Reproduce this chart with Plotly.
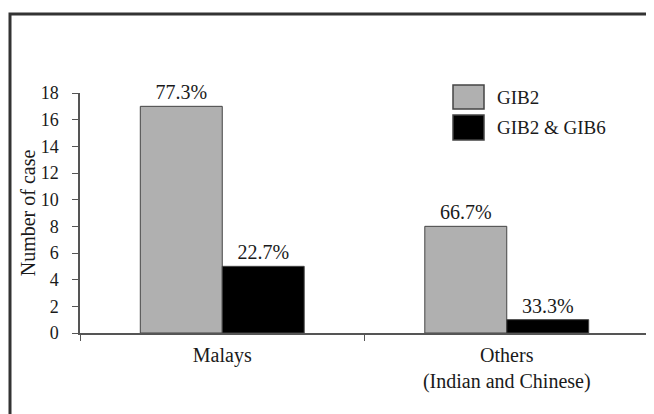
import plotly.graph_objects as go

categories = ["Malays", "Others<br>(Indian and Chinese)"]
series_names = ["GIB2", "GIB2 & GIB6"]
gib2_values = [17, 8]
gib2_gib6_values = [5, 1]
gib2_labels = ["77.3%", "66.7%"]
gib2_gib6_labels = ["22.7%", "33.3%"]
y_ticks = [0, 2, 4, 6, 8, 10, 12, 14, 16, 18]

FONT = "Liberation Serif"
COLORS = ["#b0b0b0", "#000000"]
TXT = "#1a1a1a"

# page body has an 8px margin, so the figure origin is at (8, 8) in the window
OFF = 8
W, H = 654, 414
PL, PR, PT, PB = 80, 649, 93, 333   # plot area in window pixels
L, T = PL - OFF, PT - OFF
R = W - (PR - OFF)
B = H - (PB - OFF)
pw, ph = PR - PL, PB - PT

def px_x(p):
    return (p - PL) / pw

def px_y(p):
    return (PB - p) / ph

fig = go.Figure()
for name, vals, labels, col in [
    (series_names[0], gib2_values, gib2_labels, COLORS[0]),
    (series_names[1], gib2_gib6_values, gib2_gib6_labels, COLORS[1]),
]:
    fig.add_trace(go.Bar(
        x=categories, y=vals, name=name,
        text=labels, textposition="outside",
        textfont=dict(family=FONT, size=20, color=TXT),
        marker=dict(color=col, line=dict(color="#444", width=1)),
        cliponaxis=False, showlegend=False,
    ))

# legend drawn as swatches + labels
shapes = [dict(
    type="rect", xref="paper", yref="paper",
    x0=px_x(10), x1=px_x(680), y0=px_y(440), y1=px_y(14),
    line=dict(color="#333", width=3), fillcolor="rgba(0,0,0,0)",
)]
annotations = []
legend_rows = [(85, 109), (115, 140)]
for (top, bot), name, col in zip(legend_rows, series_names, COLORS):
    shapes.append(dict(
        type="rect", xref="paper", yref="paper",
        x0=px_x(453), x1=px_x(484), y0=px_y(bot), y1=px_y(top),
        line=dict(color="#444", width=1.5), fillcolor=col,
    ))
    annotations.append(dict(
        xref="paper", yref="paper", x=px_x(495), y=px_y((top + bot) / 2),
        xanchor="left", yanchor="middle", text=name, showarrow=False,
        font=dict(family=FONT, size=19, color=TXT),
    ))

fig.update_layout(
    width=W, height=H,
    margin=dict(l=L, r=R, t=T, b=B, autoexpand=False),
    paper_bgcolor="white", plot_bgcolor="white",
    barmode="group", bargap=0.424, bargroupgap=0,
    font=dict(family=FONT, size=18, color=TXT),
    xaxis=dict(
        showline=True, linecolor="#555", linewidth=1.5,
        ticks="outside", tickson="boundaries", ticklen=6, tickcolor="#555",
        showgrid=False, tickfont=dict(family=FONT, size=20, color=TXT),
        ticklabelstandoff=3, automargin=False,
    ),
    yaxis=dict(
        range=[0, 18], tickvals=y_ticks, showline=True, linecolor="#555",
        linewidth=1.5, ticks="outside", ticklen=6, tickcolor="#555",
        showgrid=False, zeroline=False, ticklabelstandoff=10,
        tickfont=dict(family=FONT, size=18, color=TXT),
        automargin=False,
        title=dict(text="Number of case", standoff=0,
                   font=dict(family=FONT, size=20, color=TXT)),
    ),
    shapes=shapes,
    annotations=annotations,
)

fig.write_html("out.html")
